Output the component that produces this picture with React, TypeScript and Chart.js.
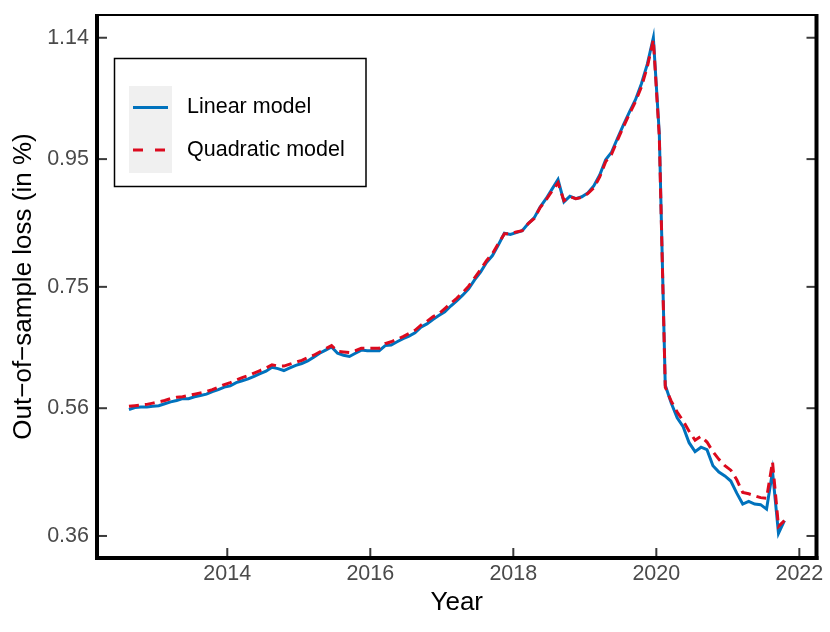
import { useEffect, useRef } from 'react'
import { Chart, registerables } from 'chart.js'

Chart.register(...registerables)

// monthly observations, Aug 2012 .. Oct 2021 (placed at mid-month)
const startYear = 2012
const startMonth = 8
const monthCount = 111
const months: number[] = []
for (let i = 0; i < monthCount; i++) {
  const m = startMonth - 1 + i
  months.push(startYear + Math.floor(m / 12) + ((m % 12) + 0.5) / 12)
}

const linearLoss = [
  0.558, 0.561, 0.562, 0.562, 0.563, 0.564, 0.567, 0.570, 0.572, 0.575,
  0.575, 0.578, 0.580, 0.582, 0.586, 0.589, 0.593, 0.595, 0.600, 0.603,
  0.606, 0.610, 0.614, 0.618, 0.624, 0.622, 0.619, 0.623, 0.627, 0.630,
  0.634, 0.640, 0.646, 0.651, 0.656, 0.646, 0.643, 0.641, 0.646, 0.651,
  0.650, 0.650, 0.650, 0.658, 0.659, 0.664, 0.669, 0.673, 0.678, 0.687,
  0.692, 0.699, 0.705, 0.711, 0.720, 0.728, 0.737, 0.747, 0.761, 0.773,
  0.788, 0.799, 0.816, 0.834, 0.832, 0.835, 0.838, 0.849, 0.858, 0.875,
  0.888, 0.903, 0.918, 0.883, 0.892, 0.888, 0.891, 0.897, 0.908, 0.925,
  0.949, 0.961, 0.983, 1.004, 1.024, 1.043, 1.068, 1.099, 1.140, 0.990,
  0.596, 0.568, 0.545, 0.531, 0.506, 0.492, 0.499, 0.495, 0.470, 0.460,
  0.454, 0.446, 0.427, 0.410, 0.414, 0.410, 0.409, 0.402, 0.461, 0.364,
  0.384,
]

const quadraticLoss = [
  0.563, 0.564, 0.565, 0.566, 0.568, 0.570, 0.572, 0.575, 0.577, 0.578,
  0.580, 0.582, 0.584, 0.586, 0.589, 0.593, 0.597, 0.600, 0.604, 0.608,
  0.611, 0.615, 0.619, 0.623, 0.628, 0.626, 0.626, 0.629, 0.632, 0.635,
  0.639, 0.643, 0.648, 0.653, 0.658, 0.649, 0.648, 0.647, 0.650, 0.654,
  0.654, 0.654, 0.654, 0.661, 0.664, 0.668, 0.672, 0.677, 0.682, 0.690,
  0.696, 0.703, 0.708, 0.716, 0.724, 0.732, 0.741, 0.751, 0.764, 0.777,
  0.791, 0.802, 0.818, 0.833, 0.833, 0.836, 0.838, 0.849, 0.857, 0.874,
  0.886, 0.900, 0.913, 0.885, 0.891, 0.888, 0.890, 0.896, 0.905, 0.922,
  0.946, 0.958, 0.980, 1.001, 1.021, 1.040, 1.063, 1.095, 1.137, 0.985,
  0.593, 0.571, 0.554, 0.540, 0.524, 0.510, 0.516, 0.507, 0.492, 0.480,
  0.470, 0.463, 0.448, 0.428, 0.426, 0.423, 0.420, 0.419, 0.476, 0.375,
  0.384,
]

const xTicks = [2014, 2016, 2018, 2020, 2022]
const yTicks = [0.36, 0.56, 0.75, 0.95, 1.14]
const seriesNames = ['Linear model', 'Quadratic model']

const FONT = '"Liberation Sans", Arial, Helvetica, sans-serif'
const BLUE = '#0072bd'
const RED = '#dc0a1e'
const TICK_GREY = '#4a4a4a'

const framePlugin = {
  id: 'frame',
  afterDraw(chart: any) {
    const { ctx, chartArea: { left, right, top, bottom }, scales: { x, y } } = chart
    const line = (x1: number, y1: number, x2: number, y2: number) => {
      ctx.beginPath(); ctx.moveTo(x1, y1); ctx.lineTo(x2, y2); ctx.stroke()
    }
    ctx.save()
    // inward tick marks
    ctx.strokeStyle = '#3a3a3a'
    ctx.lineWidth = 2
    yTicks.forEach(v => {
      const py = y.getPixelForValue(v)
      line(left, py, left + 10, py)
      line(right - 10, py, right, py)
    })
    xTicks.forEach(v => {
      const px = x.getPixelForValue(v)
      line(px, bottom, px, bottom - 10)
    })
    // box
    ctx.strokeStyle = '#000'
    ctx.lineWidth = 2
    line(left, top, right, top)
    ctx.lineWidth = 4
    line(left, top - 1, left, bottom + 2)
    line(left - 2, bottom, right + 2, bottom)
    line(right, top - 1, right, bottom + 2)
    ctx.restore()
  },
}

const legendPlugin = {
  id: 'boxLegend',
  afterDraw(chart: any) {
    const { ctx } = chart
    ctx.save()
    ctx.fillStyle = '#fff'
    ctx.fillRect(114.5, 58.5, 251.5, 128)
    ctx.fillStyle = '#f0f0f0'
    ctx.fillRect(129, 86, 43, 87)
    ctx.strokeStyle = '#000'
    ctx.lineWidth = 1.5
    ctx.strokeRect(114.5, 58.5, 251.5, 128)

    ctx.lineWidth = 3
    ctx.strokeStyle = BLUE
    ctx.beginPath(); ctx.moveTo(133, 107.5); ctx.lineTo(168, 107.5); ctx.stroke()
    ctx.strokeStyle = RED
    ctx.setLineDash([10, 12])
    ctx.beginPath(); ctx.moveTo(133, 150); ctx.lineTo(168, 150); ctx.stroke()
    ctx.setLineDash([])

    ctx.fillStyle = '#000'
    ctx.font = `21.5px ${FONT}`
    ctx.textBaseline = 'middle'
    ctx.textAlign = 'left'
    ctx.fillText(seriesNames[0], 187, 107.5)
    ctx.fillText(seriesNames[1], 187, 150)
    ctx.restore()
  },
}

export default function App() {
  const canvasRef = useRef<HTMLCanvasElement>(null)

  useEffect(() => {
    if (!canvasRef.current) return
    const chart = new Chart(canvasRef.current, {
      type: 'line',
      data: {
        datasets: [
          {
            label: seriesNames[1],
            data: quadraticLoss.map((v, i) => ({ x: months[i], y: v })),
            borderColor: RED,
            borderWidth: 3,
            borderDash: [10, 6],
            pointRadius: 0,
            fill: false,
            tension: 0,
            order: 0,
          },
          {
            label: seriesNames[0],
            data: linearLoss.map((v, i) => ({ x: months[i], y: v })),
            borderColor: BLUE,
            borderWidth: 3,
            pointRadius: 0,
            fill: false,
            tension: 0,
            order: 1,
          },
        ],
      },
      options: {
        animation: false,
        responsive: true,
        maintainAspectRatio: false,
        layout: { padding: { top: 15, right: 13.5, left: 0, bottom: 0 } },
        plugins: {
          legend: { display: false },
          tooltip: { enabled: false },
        },
        scales: {
          x: {
            type: 'linear',
            min: 2012.178,
            max: 2022.24,
            grid: { display: false, drawTicks: false },
            border: { display: false },
            afterBuildTicks: (s: any) => { s.ticks = xTicks.map(v => ({ value: v })) },
            afterFit: (s: any) => { s.height = 74 },
            ticks: {
              color: TICK_GREY,
              font: { family: FONT, size: 21.5 },
              padding: 3,
              maxRotation: 0,
              autoSkip: false,
              callback: (v: any) => String(v),
            },
            title: {
              display: true,
              text: 'Year',
              color: '#000',
              font: { family: FONT, size: 26 },
              padding: { top: 0, bottom: 14 },
            },
          },
          y: {
            type: 'linear',
            min: 0.3255,
            max: 1.1756,
            grid: { display: false, drawTicks: false },
            border: { display: false },
            afterBuildTicks: (s: any) => { s.ticks = yTicks.map(v => ({ value: v })) },
            afterFit: (s: any) => { s.width = 97; s.paddingTop = 0; s.paddingBottom = 0 },
            ticks: {
              color: TICK_GREY,
              font: { family: FONT, size: 21.5 },
              padding: 8,
              autoSkip: false,
              callback: (v: any) => Number(v).toFixed(2),
            },
            title: {
              display: true,
              text: 'Out\u2212of\u2212sample loss (in %)',
              color: '#000',
              font: { family: FONT, size: 26 },
              padding: { top: 8.4, bottom: 0 },
            },
          },
        },
      },
      plugins: [framePlugin, legendPlugin],
    })
    return () => { chart.destroy() }
  }, [])

  return (
    <div style={{ position: 'absolute', left: 0, top: 0, width: 830, height: 632, background: '#fff' }}>
      <canvas ref={canvasRef} />
    </div>
  )
}
